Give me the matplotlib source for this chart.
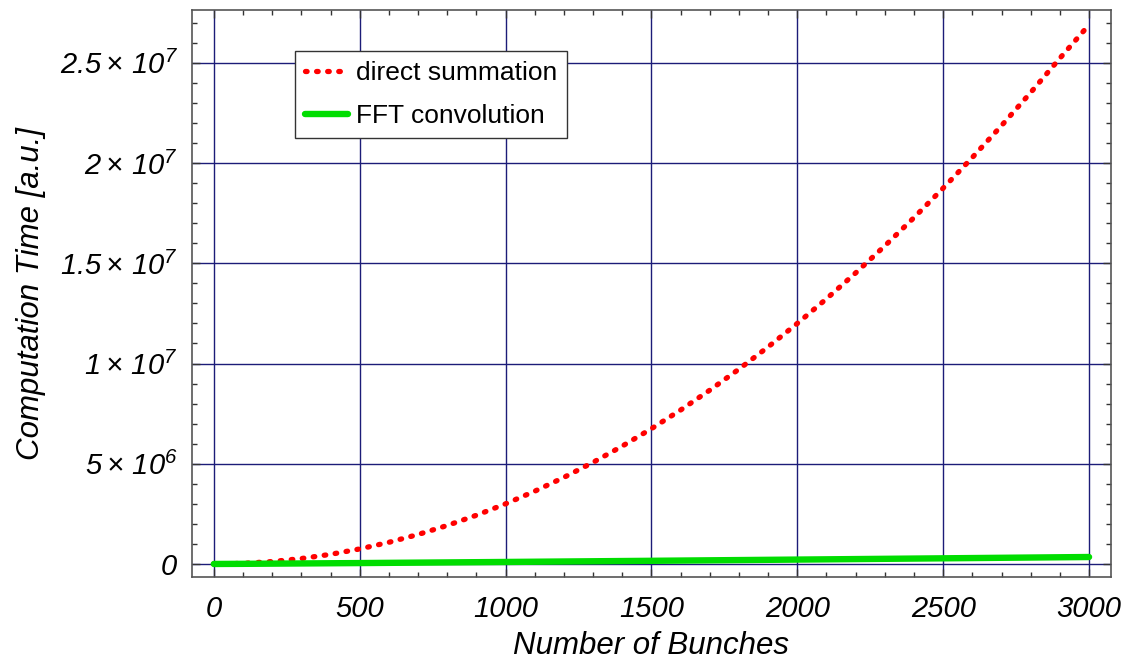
import matplotlib
matplotlib.use("Agg")
import matplotlib.pyplot as plt
from matplotlib.ticker import FixedLocator, FixedFormatter, MultipleLocator

# values
bunches = [0, 100, 200, 300, 400, 500, 600, 700, 800, 900, 1000,
           1100, 1200, 1300, 1400, 1500, 1600, 1700, 1800, 1900, 2000,
           2100, 2200, 2300, 2400, 2500, 2600, 2700, 2800, 2900, 3000]
direct_sum = [0, 3.0e4, 1.2e5, 2.7e5, 4.8e5, 7.5e5, 1.08e6, 1.47e6, 1.92e6, 2.43e6, 3.0e6,
              3.63e6, 4.32e6, 5.07e6, 5.88e6, 6.75e6, 7.68e6, 8.67e6, 9.72e6, 1.083e7, 1.2e7,
              1.323e7, 1.452e7, 1.587e7, 1.728e7, 1.875e7, 2.028e7, 2.187e7, 2.352e7, 2.523e7, 2.69e7]

fft_bunches = [0, 100, 500, 1000, 1500, 2000, 2500, 3000]
fft_conv = [0, 6.6e3, 4.5e4, 1.0e5, 1.58e5, 2.19e5, 2.82e5, 3.47e5]

y_ticks = [0, 5e6, 1e7, 1.5e7, 2e7, 2.5e7]
y_labels = ["$0$", r"$5\times\,10^{6}$", r"$1\times\,10^{7}$", r"$1.5\times\,10^{7}$",
            r"$2\times\,10^{7}$", r"$2.5\times\,10^{7}$"]
x_ticks = [0, 500, 1000, 1500, 2000, 2500, 3000]

plt.rcParams["font.family"] = ["Liberation Sans", "DejaVu Sans"]
plt.rcParams["mathtext.fontset"] = "custom"
plt.rcParams["mathtext.rm"] = "Liberation Sans:italic"
plt.rcParams["mathtext.it"] = "Liberation Sans:italic"
plt.rcParams["mathtext.default"] = "rm"

fig = plt.figure(figsize=(11.29, 6.62), dpi=100)
ax = fig.add_axes([0.170, 0.1284, 0.814, 0.8566])

grid_col = "#1c1c78"
for xv in x_ticks:
    ax.axvline(xv, color=grid_col, lw=1.0, zorder=0)
for yv in y_ticks:
    ax.axhline(yv, color=grid_col, lw=1.0, zorder=0)

ax.plot(bunches, direct_sum, color="red", lw=3.8, linestyle=(0, (0.3, 1.8)),
        dash_capstyle="round", label="direct summation", zorder=3)
ax.plot(fft_bunches, fft_conv, color="#00dd00", lw=4.6, solid_capstyle="round",
        label="FFT convolution", zorder=3)

ax.set_xlim(-75, 3075)
ax.set_ylim(-6.5e5, 2.764e7)

ax.xaxis.set_major_locator(FixedLocator(x_ticks))
ax.xaxis.set_minor_locator(MultipleLocator(100))
ax.yaxis.set_major_locator(FixedLocator(y_ticks))
ax.yaxis.set_major_formatter(FixedFormatter(y_labels))
ax.yaxis.set_minor_locator(MultipleLocator(1e6))

ax.tick_params(which="both", direction="in", top=True, right=True, color="#333333")
ax.tick_params(which="major", length=6, width=1)
ax.tick_params(which="minor", length=3.5, width=1)
ax.tick_params(axis="x", which="major", labelsize=21, pad=13)
ax.tick_params(axis="y", which="major", labelsize=21, pad=10)
for lab in ax.get_xticklabels():
    lab.set_fontstyle("italic")

for sp in ax.spines.values():
    sp.set_color("#555555")
    sp.set_linewidth(1.2)

ax.set_xlabel("Number of Bunches", fontsize=22.5, fontstyle="italic", labelpad=6)
ax.set_ylabel("Computation Time [a.u.]", fontsize=22.5, fontstyle="italic", labelpad=10)

leg = ax.legend(loc="upper left", bbox_to_anchor=(0.112, 0.928), fontsize=19,
                frameon=True, fancybox=False, framealpha=1, edgecolor="#333333",
                handlelength=1.6, handletextpad=0.3, borderpad=0.4, labelspacing=0.7,
                borderaxespad=0)
leg.get_frame().set_linewidth(1.0)

fig.savefig("out.png", dpi=100)
